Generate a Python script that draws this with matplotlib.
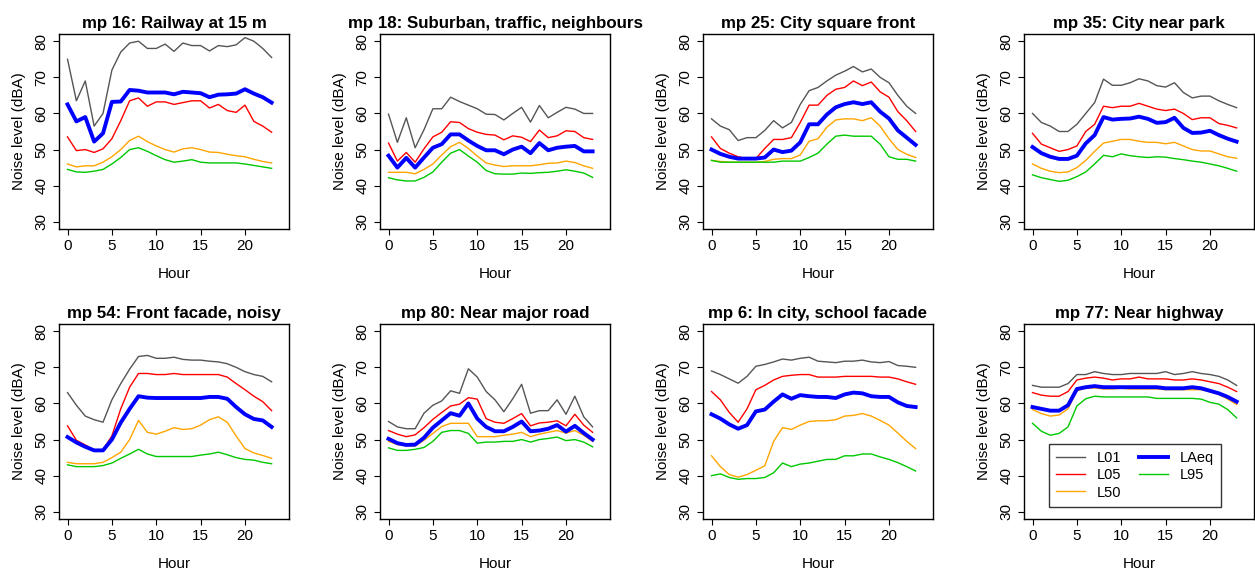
import matplotlib
matplotlib.use('Agg')
import matplotlib.pyplot as plt

plt.rcParams['font.family'] = ['Liberation Sans', 'DejaVu Sans']

# --- data: hourly noise levels (dBA), hours 0..23 ---
hours = list(range(24))

titles = ['mp 16: Railway at 15 m', 'mp 18: Suburban, traffic, neighbours',
          'mp 25: City square front', 'mp 35: City near park',
          'mp 54: Front facade, noisy', 'mp 80: Near major road',
          'mp 6: In city, school facade', 'mp 77: Near highway']

mp16 = {
    'L01': [75, 63.5, 69, 56.5, 60, 72, 77, 79.5, 80, 78, 78, 79.2, 77.2, 79.5, 78.8, 78.8, 77.3, 78.8, 78.5, 79, 81, 80, 78, 75.5],
    'L05': [53.5, 49.7, 50, 49.2, 50.2, 53, 58, 63.5, 64.3, 62, 63.2, 63.2, 62.5, 63, 63.5, 63.5, 61.5, 62.5, 60.8, 60.3, 62.3, 57.8, 56.5, 54.8],
    'L50': [46, 45.2, 45.5, 45.5, 46.5, 48, 50, 52.5, 53.7, 52.2, 51, 50, 49.3, 50.2, 50.5, 50, 49.3, 49.2, 48.7, 48.3, 48, 47.3, 46.7, 46.3],
    'LAeq': [62.5, 57.8, 59, 52.2, 54.5, 63.2, 63.3, 66.5, 66.3, 65.8, 65.8, 65.8, 65.3, 66, 65.8, 65.6, 64.5, 65.2, 65.3, 65.5, 66.7, 65.5, 64.5, 63],
    'L95': [44.5, 43.8, 43.7, 44, 44.5, 46, 47.8, 50, 50.5, 49.5, 48.3, 47.2, 46.5, 46.8, 47.2, 46.5, 46.3, 46.3, 46.3, 46.3, 46, 45.6, 45.2, 44.8],
}
mp18 = {
    'L01': [59.8, 52, 58.8, 50.5, 55.5, 61.3, 61.3, 64.5, 63.3, 62.3, 61.3, 59.8, 59.7, 58.2, 60, 61.7, 57.6, 62.2, 58.8, 60.3, 61.7, 61.2, 60, 60],
    'L05': [51.8, 46.8, 49.2, 46.5, 50.2, 53.5, 54.8, 57.7, 57.5, 55.8, 54.8, 54.2, 54, 52.7, 53.8, 53.4, 52.2, 55.4, 53.3, 53.8, 55.2, 55, 53.3, 52.8],
    'L50': [43.7, 43.7, 43.7, 43.3, 44.5, 46, 48.5, 50.8, 52, 50.3, 48.2, 46.3, 45.7, 45.3, 45.5, 45.5, 45.5, 45.8, 46.2, 46.3, 46.8, 46.4, 45.5, 44.8],
    'LAeq': [48.3, 45, 47.7, 45, 47.8, 50.5, 51.5, 54.2, 54.2, 52.5, 51, 49.8, 49.8, 48.7, 50, 50.8, 49, 51.8, 49.8, 50.5, 50.8, 51, 49.5, 49.5],
    'L95': [42.2, 41.6, 41.3, 41.3, 42.3, 43.8, 46.5, 49, 50, 48.2, 46.5, 44.2, 43.3, 43.2, 43.2, 43.5, 43.4, 43.6, 43.7, 44, 44.4, 44, 43.5, 42.3],
}
mp25 = {
    'L01': [58.5, 56.5, 55.5, 52.5, 53.3, 53.3, 55.3, 58, 56, 57.5, 62.5, 66.3, 67.2, 69, 70.6, 71.7, 73, 71.5, 72.3, 70, 68.5, 65, 62, 60],
    'L05': [53.5, 50.3, 49, 48, 47.5, 47.5, 50.3, 52.8, 52.8, 53.3, 57.5, 62.3, 62.3, 65, 66.7, 67.2, 69, 67.7, 68.7, 66, 64.5, 60.5, 58, 55],
    'L50': [47, 46.7, 46.5, 46.5, 46.5, 46.5, 46.7, 47.3, 47.5, 47.5, 48.5, 52.3, 53, 56.2, 58.2, 58.5, 58.5, 58, 58.8, 56.5, 53, 50, 48.7, 47.8],
    'LAeq': [50, 48.8, 48, 47.5, 47.5, 47.5, 47.8, 50, 49.3, 49.7, 52, 57, 57, 59.7, 61.7, 62.6, 63.1, 62.6, 63.1, 60.5, 58.6, 55.3, 53.3, 51.3],
    'L95': [47, 46.5, 46.5, 46.5, 46.5, 46.5, 46.5, 46.5, 46.8, 46.8, 46.8, 47.8, 49, 51.5, 53.7, 54, 53.7, 53.7, 53.7, 51.5, 48, 47.3, 47.3, 46.8],
}
mp35 = {
    'L01': [60, 57.5, 56.5, 55, 55, 57, 60, 63, 69.5, 67.8, 67.8, 68.5, 69.6, 69, 67.7, 67.3, 68.5, 65.8, 64.3, 64.8, 64.8, 63.5, 62.5, 61.6],
    'L05': [54.5, 51.5, 50.5, 49.5, 50, 51, 55, 57, 62, 61.6, 62, 62, 62.8, 62, 61.2, 60.8, 61.2, 60, 58.3, 58.8, 58.8, 57.2, 56.7, 56],
    'L50': [46, 44.8, 44, 43.6, 43.8, 45, 47, 49.5, 51.8, 52.3, 52.8, 52.8, 52.3, 52, 52, 51.6, 52, 51, 50, 49.6, 49.6, 48.8, 48, 47.6],
    'LAeq': [50.7, 49, 48, 47.4, 47.4, 48.3, 51.7, 54, 59, 58.3, 58.5, 58.6, 59.1, 58.5, 57.4, 57.6, 58.8, 56, 54.6, 54.7, 55.2, 54, 53, 52.2],
    'L95': [43, 42.2, 41.7, 41.2, 41.5, 42.5, 43.8, 46, 48.4, 48, 48.8, 48.3, 48, 47.8, 48, 47.9, 47.5, 47.2, 46.8, 46.5, 46, 45.5, 44.8, 44],
}
mp54 = {
    'L01': [63, 59.5, 56.5, 55.5, 54.8, 61, 65.5, 69.5, 73, 73.3, 72.5, 72.5, 72.8, 72.2, 72, 72, 71.7, 71.5, 71, 70, 68.8, 68, 67.5, 66],
    'L05': [53.8, 49.8, 48.5, 47.2, 47.2, 51, 58.5, 64.5, 68.3, 68.3, 68, 68, 68.3, 68, 68, 68, 68, 68, 67.3, 65.5, 63.8, 62, 60.5, 58],
    'L50': [43.7, 43.3, 43.3, 43.3, 43.7, 45, 46.5, 50, 55.3, 52, 51.5, 52.3, 53.3, 52.8, 53, 54, 55.5, 56.3, 54.8, 51, 47.5, 46.3, 45.6, 44.8],
    'LAeq': [50.7, 49.2, 48, 47, 47, 50, 54.7, 58.5, 62, 61.6, 61.5, 61.5, 61.5, 61.5, 61.5, 61.5, 61.8, 61.8, 61.3, 59, 57, 55.7, 55.3, 53.5],
    'L95': [43, 42.5, 42.5, 42.5, 42.8, 43.5, 44.8, 46, 47.3, 46, 45.3, 45.3, 45.3, 45.3, 45.3, 45.7, 46, 46.5, 45.8, 45, 44.5, 44.3, 43.7, 43.3],
}
mp80 = {
    'L01': [55, 53.5, 53, 53, 57.3, 59.5, 60.7, 63.5, 62.8, 69.6, 67.3, 63.3, 61, 57.7, 61.3, 65.3, 57.3, 58, 58, 61, 57, 62, 56.3, 53.5],
    'L05': [52.5, 51.5, 50.8, 51.3, 53.3, 55.6, 57.5, 59.3, 59.8, 61.6, 61.2, 55.8, 54.8, 54.5, 55.8, 57.2, 53.8, 54.6, 54.8, 55.2, 53.8, 57, 54, 52],
    'L50': [49.5, 48.6, 48.3, 48.2, 49.8, 51.7, 53.6, 54.5, 54.5, 54.5, 50.8, 50.8, 50.8, 51.2, 51.5, 52, 50.8, 51.5, 52, 52.5, 51.8, 52.5, 51.2, 49.5],
    'LAeq': [50.2, 49, 48.5, 48.6, 50.5, 53.3, 55.3, 57.3, 56.6, 60, 55.8, 53.5, 52.3, 52.3, 53.5, 55, 52.3, 52.5, 53, 54, 52.2, 53.8, 51.8, 50],
    'L95': [47.7, 47, 47, 47.3, 47.8, 49.5, 52, 52.5, 52.5, 51.7, 49, 49.3, 49.3, 49.5, 49.5, 50, 49.3, 50, 50.3, 50.7, 49.7, 50, 49.3, 48],
}
mp6 = {
    'L01': [69, 68, 66.8, 65.6, 67.5, 70.3, 70.8, 71.5, 72.3, 72, 72.5, 72.8, 71.7, 71.5, 71.3, 71.7, 71.7, 72, 71.5, 71.3, 71.6, 70.5, 70.3, 70],
    'L05': [63.3, 61, 57.5, 54.8, 58.5, 63.8, 65, 66.5, 67.5, 67.8, 68, 68, 67.3, 67.3, 67.3, 67.5, 67.5, 67.5, 67.5, 67.3, 67.3, 66.8, 66, 65.3],
    'L50': [45.5, 42.5, 40.3, 39.6, 40.3, 41.5, 42.7, 49.5, 53.3, 52.8, 54, 55, 55.2, 55.2, 55.5, 56.5, 56.7, 57.2, 56.5, 55.3, 54, 51.8, 49.5, 47.5],
    'LAeq': [57, 55.8, 54.2, 53, 54, 57.8, 58.3, 60.5, 62.5, 61.3, 62.3, 62, 61.8, 61.8, 61.5, 62.5, 63, 62.8, 62, 61.8, 61.8, 60.3, 59.3, 59],
    'L95': [40, 40.5, 39.5, 39, 39.2, 39.2, 39.5, 40.8, 43.5, 42.5, 43.2, 43.5, 44, 44.5, 44.5, 45.5, 45.5, 46, 46, 45.2, 44.5, 43.6, 42.5, 41.3],
}
mp77 = {
    'L01': [65, 64.5, 64.5, 64.5, 65.5, 68, 68, 68.8, 68.3, 68, 68, 68.3, 68.3, 68.3, 68.3, 68.8, 68, 68.3, 68.8, 68.3, 68, 67.5, 66.5, 65],
    'L05': [63, 62.3, 62, 62, 63.3, 66.5, 67, 67.3, 67, 66.5, 66.8, 66.8, 67.3, 66.8, 66.8, 66.8, 66.5, 66.5, 66.8, 66.5, 66, 65.5, 64.5, 63.3],
    'L50': [58.3, 57.2, 56.5, 56.8, 58.5, 63.5, 64.2, 64.3, 64, 64, 64.2, 64, 64, 64, 64, 63.8, 63.8, 63.8, 63.8, 63.8, 63.2, 62.5, 61.2, 59.7],
    'LAeq': [59, 58.5, 58, 58, 59.5, 64, 64.5, 64.8, 64.5, 64.5, 64.5, 64.5, 64.5, 64.5, 64.5, 64.2, 64.2, 64.2, 64.5, 64.2, 63.5, 62.8, 61.8, 60.5],
    'L95': [54.5, 52.3, 51.2, 51.7, 53.5, 59.3, 61.3, 62, 61.8, 61.8, 61.8, 61.8, 61.8, 61.8, 61.4, 61.4, 61.4, 61.4, 61.4, 61.2, 60.3, 59.8, 58.3, 56],
}
sites = [mp16, mp18, mp25, mp35, mp54, mp80, mp6, mp77]

series = ['L01', 'L05', 'L50', 'LAeq', 'L95']
colors = {'L01': '#555555', 'L05': '#ff0000', 'L50': '#ffa500', 'LAeq': '#0000ff', 'L95': '#00c800'}
widths = {'L01': 1.0, 'L05': 1.0, 'L50': 1.0, 'LAeq': 2.8, 'L95': 1.0}

W, H = 1255, 571
fig = plt.figure(figsize=(W / 100, H / 100), dpi=100)

lefts = [59, 380, 703, 1024]
tops = [34, 324]
aw, ah = 230, 195

for i, (site, title) in enumerate(zip(sites, titles)):
    l = lefts[i % 4]
    t = tops[i // 4]
    ax = fig.add_axes([l / W, 1 - (t + ah) / H, aw / W, ah / H])
    for s in series:
        ax.plot(hours, site[s], color=colors[s], lw=widths[s], label=s,
                zorder=3 if s == 'LAeq' else 2)
    ax.set_xlim(-0.96, 24.96)
    ax.set_ylim(28, 82)
    ax.set_xticks([0, 5, 10, 15, 20])
    ax.set_yticks([30, 40, 50, 60, 70, 80])
    ax.tick_params(direction='out', length=4.5, width=0.8, labelsize=11, pad=3)
    for lab in ax.get_yticklabels():
        lab.set_rotation(90)
        lab.set_va('center')
    for sp in ax.spines.values():
        sp.set_linewidth(1.0)
    ax.set_title(title, fontsize=12.2, fontweight='bold', pad=4)
    ax.set_xlabel('Hour', fontsize=11, labelpad=10)
    ax.set_ylabel('Noise level (dBA)', fontsize=11, labelpad=6)
    if i == 7:
        leg = ax.legend(ncol=2, loc='lower right', fontsize=10.5, frameon=True,
                        fancybox=False, edgecolor='black', handlelength=2.0,
                        borderpad=0.5, labelspacing=0.22, columnspacing=1.2,
                        handletextpad=0.8, bbox_to_anchor=(0.89, 0.025))
        leg.get_frame().set_linewidth(1.0)

fig.savefig('out.png', dpi=100)
